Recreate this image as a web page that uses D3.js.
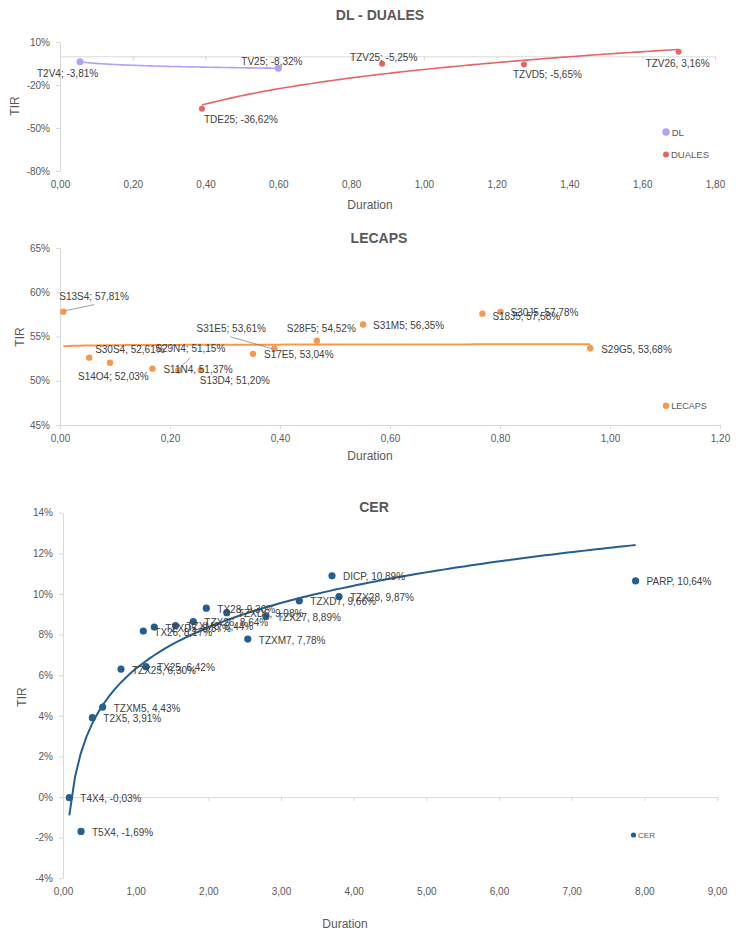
<!DOCTYPE html>
<html lang="es">
<head>
<meta charset="UTF-8">
<title>Curvas TIR - Duration</title>
<script src="https://d3js.org/d3.v7.min.js"></script>
<style>
    body { margin: 0; background: #fff; }
    svg text { font-family: "Liberation Sans", Arial, sans-serif; }
</style>
</head>
<body>
<div id="chart"></div>
<script>
// DL
const dlNames = ["T2V4", "TV25"];
const dlDur = [0.055, 0.60];
const dlTir = [-3.81, -8.32];
const dlSep = [";", ";"];

// DUALES
const dualesNames = ["TDE25", "TZV25", "TZVD5", "TZV26"];
const dualesDur = [0.39, 0.885, 1.275, 1.70];
const dualesTir = [-36.62, -5.25, -5.65, 3.16];
const dualesSep = [";", ";", ";", ","];

// LECAPS
const lecapsNames = ["S13S4", "S30S4", "S14O4", "S11N4", "S29N4", "S13D4", "S17E5", "S31E5", "S28F5", "S31M5", "S18J5", "S30J5", "S29G5"];
const lecapsDur = [0.006, 0.053, 0.091, 0.168, 0.215, 0.256, 0.351, 0.39, 0.467, 0.551, 0.768, 0.801, 0.964];
const lecapsTir = [57.81, 52.61, 52.03, 51.37, 51.15, 51.20, 53.04, 53.61, 54.52, 56.35, 57.58, 57.78, 53.68];
const lecapsSep = [";", ",", ";", ",", ";", ";", ",", ";", ";", ";", ";", ",", ","];

// CER
const cerNames = ["T4X4", "T5X4", "T2X5", "TZXM5", "TZX25", "TX25", "TX26", "TZXD5", "TZXM6", "TZX26", "TX28", "TZXD6", "TZXM7", "TZX27", "TZXD7", "DICP", "TZX28", "PARP"];
const cerDur = [0.087, 0.248, 0.404, 0.546, 0.798, 1.142, 1.105, 1.256, 1.548, 1.793, 1.972, 2.254, 2.543, 2.793, 3.252, 3.702, 3.798, 7.88];
const cerTir = [-0.03, -1.69, 3.91, 4.43, 6.30, 6.42, 8.17, 8.37, 8.44, 8.64, 9.30, 9.08, 7.78, 8.89, 9.66, 10.89, 9.87, 10.64];
const cerSep = cerNames.map(() => ",");

// axis ticks
const dualesYTicks = [-80, -50, -20, 10];
const lecapsYTicks = [45, 50, 55, 60, 65];
const cerYTicks = [-4, -2, 0, 2, 4, 6, 8, 10, 12, 14];

// label placement (px from point: start x, center y) + leader lines
const labelPos = {
    T2V4: [-43, 12], TV25: [-37, -7], TDE25: [2, 11], TZV25: [-32, -6], TZVD5: [-11, 10], TZV26: [-33, 12],
    S13S4: [-4, -15, [31, -7, 2, -1]], S30S4: [6, -8], S14O4: [-32, 14], S11N4: [11, 1],
    S29N4: [-23, -22, [12, -13, 2, -3]], S13D4: [-1, 10], S17E5: [11, 1],
    S31E5: [-78, -20, [-44, -12, -2, 0]], S28F5: [-30, -12], S31M5: [10, 1], S18J5: [10, 3],
    S30J5: [10, 1], S29G5: [11, 1]
};

const loc = d3.formatLocale({ decimal: ",", thousands: ".", grouping: [3], currency: ["$", ""], minus: "-" });
const f2 = loc.format(".2f");

const svg = d3.select("#chart").append("svg")
    .attr("width", 739)
    .attr("height", 934);

// excel style logarithmic trendline
const logFit = (xs, ys) => {
    const lx = xs.map(Math.log);
    const mx = d3.mean(lx), my = d3.mean(ys);
    const b = d3.sum(lx, (v, i) => (v - mx) * (ys[i] - my)) / d3.sum(lx, v => (v - mx) ** 2);
    return x => my + b * (Math.log(x) - mx);
};

const charts = [
    {
        title: "DL - DUALES", titleX: 380, titleY: 20,
        xMax: 1.8, xStep: 0.2, xRange: [60, 715],
        yDomain: [-80, 10], yRange: [171, 42], yTicks: dualesYTicks, xAxisAt: 0,
        tirPos: [15, 106], durPos: [370, 209],
        series: [
            { names: dlNames, dur: dlDur, tir: dlTir, sep: dlSep, color: "#b3a0f7", r: 3.5, lw: 1.6,
              legend: "DL", leg: [666, 132, 3.7, 9.5] },
            { names: dualesNames, dur: dualesDur, tir: dualesTir, sep: dualesSep, color: "#e36666", r: 3, lw: 1.6,
              legend: "DUALES", leg: [666, 154.5, 3, 9.5] }
        ]
    },
    {
        title: "LECAPS", titleX: 379, titleY: 243,
        xMax: 1.2, xStep: 0.2, xRange: [60, 720],
        yDomain: [45, 65], yRange: [425, 248], yTicks: lecapsYTicks, xAxisAt: 45,
        tirPos: [20, 337], durPos: [370, 460],
        series: [
            { names: lecapsNames, dur: lecapsDur, tir: lecapsTir, sep: lecapsSep, color: "#f99750", r: 3.2, lw: 2,
              legend: "LECAPS", leg: [666, 405.7, 3.2, 9] }
        ]
    },
    {
        title: "CER", titleX: 374, titleY: 512,
        xMax: 9, xStep: 1, xRange: [63, 717],
        yDomain: [-4, 14], yRange: [878.3, 512.7], yTicks: cerYTicks, xAxisAt: 0,
        tirPos: [22, 697], durPos: [345, 928],
        series: [
            { names: cerNames, dur: cerDur, tir: cerTir, sep: cerSep, color: "#255e91", r: 3.6, lw: 2,
              legend: "CER", leg: [633.5, 835, 2.6, 8] }
        ]
    }
];

charts.forEach(c => {
    const g = svg.append("g");
    const x = d3.scaleLinear().domain([0, c.xMax]).range(c.xRange);
    const y = d3.scaleLinear().domain(c.yDomain).range(c.yRange);
    const axisY = y(c.xAxisAt);

    // y axis
    const ya = g.append("g")
        .attr("transform", `translate(${c.xRange[0]},0)`)
        .call(d3.axisLeft(y).tickValues(c.yTicks).tickFormat(d => d + "%").tickSize(4).tickPadding(6).tickSizeOuter(0));

    // x axis (line at axisY, labels at the bottom of the plot)
    const xa = g.append("g")
        .attr("transform", `translate(0,${axisY})`)
        .call(d3.axisBottom(x)
            .tickValues(d3.range(0, c.xMax + c.xStep / 2, c.xStep))
            .tickFormat(f2).tickSize(4).tickSizeOuter(0)
            .tickPadding(c.yRange[0] - axisY + 6));

    [ya, xa].forEach(a => {
        a.attr("font-family", null).attr("font-size", 10);
        a.selectAll("path, line").attr("stroke", "#d9d9d9");
        a.selectAll("text").attr("fill", "#595959");
    });

    g.append("text")
        .attr("x", c.titleX).attr("y", c.titleY)
        .attr("text-anchor", "middle")
        .attr("font-size", 14).attr("font-weight", "bold")
        .attr("fill", "#595959")
        .text(c.title);

    g.append("text")
        .attr("transform", `translate(${c.tirPos[0]},${c.tirPos[1]}) rotate(-90)`)
        .attr("text-anchor", "middle").attr("dominant-baseline", "central")
        .attr("font-size", 12).attr("fill", "#595959")
        .text("TIR");

    g.append("text")
        .attr("x", c.durPos[0]).attr("y", c.durPos[1])
        .attr("text-anchor", "middle")
        .attr("font-size", 12).attr("fill", "#595959")
        .text("Duration");

    c.series.forEach(s => {
        const pts = s.names.map((n, i) => ({ name: n, dur: s.dur[i], tir: s.tir[i], sep: s.sep[i] }));

        // trendline
        const fit = logFit(s.dur, s.tir);
        const [x0, x1] = d3.extent(s.dur);
        const xs = d3.range(0, 101).map(k => x0 + (x1 - x0) * k / 100);
        g.append("path")
            .datum(xs)
            .attr("fill", "none")
            .attr("stroke", s.color)
            .attr("stroke-width", s.lw)
            .attr("d", d3.line().x(d => x(d)).y(d => y(fit(d))));

        g.selectAll(null)
            .data(pts)
            .enter()
            .append("circle")
            .attr("cx", d => x(d.dur))
            .attr("cy", d => y(d.tir))
            .attr("r", s.r)
            .attr("fill", s.color);

        // leader lines
        pts.filter(d => labelPos[d.name] && labelPos[d.name][2]).forEach(d => {
            const l = labelPos[d.name][2];
            g.append("line")
                .attr("x1", x(d.dur) + l[0]).attr("y1", y(d.tir) + l[1])
                .attr("x2", x(d.dur) + l[2]).attr("y2", y(d.tir) + l[3])
                .attr("stroke", "#7f7f7f").attr("stroke-width", 0.75);
        });

        g.selectAll(null)
            .data(pts)
            .enter()
            .append("text")
            .attr("x", d => x(d.dur) + (labelPos[d.name] ? labelPos[d.name][0] : 11))
            .attr("y", d => y(d.tir) + (labelPos[d.name] ? labelPos[d.name][1] : 1))
            .attr("dominant-baseline", "central")
            .attr("font-size", 10)
            .attr("fill", "#404040")
            .text(d => `${d.name}${d.sep} ${f2(d.tir)}%`);

        // legend
        g.append("circle")
            .attr("cx", s.leg[0]).attr("cy", s.leg[1]).attr("r", s.leg[2])
            .attr("fill", s.color);
        g.append("text")
            .attr("x", s.leg[0] + s.leg[2] + 2).attr("y", s.leg[1])
            .attr("dominant-baseline", "central")
            .attr("font-size", s.leg[3]).attr("fill", "#595959")
            .text(s.legend);
    });
});
</script>
</body>
</html>
